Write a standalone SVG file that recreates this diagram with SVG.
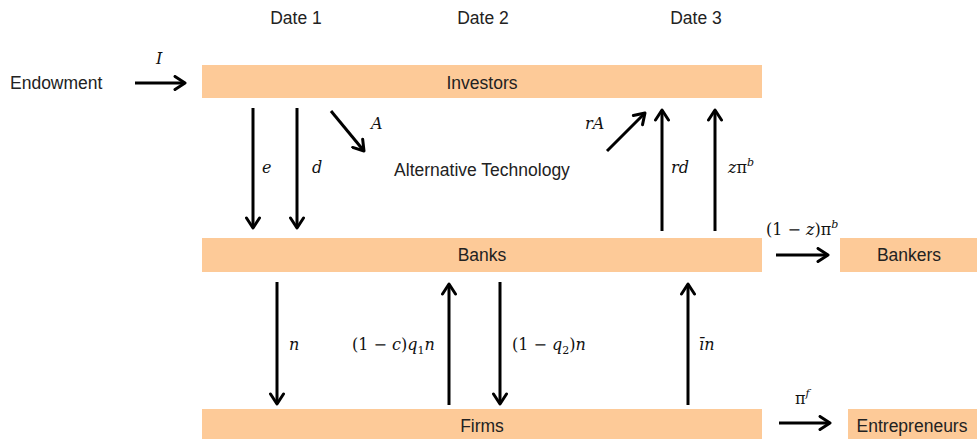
<svg xmlns="http://www.w3.org/2000/svg" width="977" height="439" viewBox="0 0 977 439">
<defs>
<marker id="ah" viewBox="0 0 14 16" refX="12" refY="8" markerWidth="14" markerHeight="16" markerUnits="userSpaceOnUse" orient="auto">
<polyline points="2,1.5 12,8 2,14.5" fill="none" stroke="#000" stroke-width="3" stroke-linecap="round" stroke-linejoin="round"/>
</marker>
<style>
.box{fill:#FDCA98;}
.t{font-family:"Liberation Sans",Arial,sans-serif;font-size:17.5px;fill:#222;}
.m{font-family:"DejaVu Serif","Liberation Serif",serif;font-style:italic;font-size:16px;fill:#111;}
.mu{font-family:"DejaVu Serif","Liberation Serif",serif;font-size:16px;fill:#111;}
.c line{stroke:#000;stroke-width:3;marker-end:url(#ah);}
</style>
</defs>
<rect width="977" height="439" fill="#fff"/>
<g id="dates">
<text class="t" x="296" y="24" text-anchor="middle">Date 1</text>
<text class="t" x="483" y="24" text-anchor="middle">Date 2</text>
<text class="t" x="696" y="24" text-anchor="middle">Date 3</text>
</g>
<g id="endowment"><text class="t" x="10" y="89">Endowment</text></g>
<g id="investors"><rect class="box" x="202" y="65" width="560" height="33"/><text class="t" x="482" y="89" text-anchor="middle">Investors</text></g>
<g id="alt"><text class="t" x="482" y="176" text-anchor="middle">Alternative  Technology</text></g>
<g id="banks"><rect class="box" x="202" y="238" width="560" height="34"/><text class="t" x="482" y="261" text-anchor="middle">Banks</text></g>
<g id="bankers"><rect class="box" x="840" y="238" width="137" height="34"/><text class="t" x="909" y="261" text-anchor="middle">Bankers</text></g>
<g id="firms"><rect class="box" x="202" y="409" width="560" height="30"/><text class="t" x="482" y="432" text-anchor="middle">Firms</text></g>
<g id="entrepreneurs"><rect class="box" x="848" y="409" width="129" height="30"/><text class="t" x="912" y="432" text-anchor="middle">Entrepreneurs</text></g>
<g id="connectors" class="c">
<line x1="135" y1="83" x2="185" y2="83"/>
<line x1="253" y1="108" x2="253" y2="228"/>
<line x1="297" y1="108" x2="297" y2="228"/>
<line x1="331" y1="111" x2="364" y2="151"/>
<line x1="607" y1="151" x2="645" y2="113"/>
<line x1="662" y1="231" x2="662" y2="110"/>
<line x1="715" y1="231" x2="715" y2="110"/>
<line x1="776" y1="255" x2="828" y2="255"/>
<line x1="277" y1="282" x2="277" y2="404"/>
<line x1="449" y1="405" x2="449" y2="284"/>
<line x1="500" y1="282" x2="500" y2="404"/>
<line x1="688" y1="405" x2="688" y2="284"/>
<line x1="779" y1="423" x2="830" y2="423"/>
</g>
<g id="labels">
<text class="m" x="156" y="64">I</text>
<text class="m" x="371" y="129">A</text>
<text class="m" x="585" y="129">rA</text>
<text class="m" x="262" y="173">e</text>
<text class="m" x="312" y="173">d</text>
<text class="m" x="671" y="173">rd</text>
<text class="m" x="728" y="173">z<tspan font-style="normal">π</tspan><tspan font-size="11" dy="-7">b</tspan></text>
<text class="mu" x="766" y="235">(1 − <tspan font-style="italic">z</tspan>)π<tspan font-style="italic" font-size="11" dy="-7">b</tspan></text>
<text class="m" x="289" y="350">n</text>
<text class="mu" x="352" y="350">(1 − <tspan font-style="italic">c</tspan>)<tspan font-style="italic">q</tspan><tspan font-size="11" dy="4">1</tspan><tspan font-style="italic" dy="-4">n</tspan></text>
<text class="mu" x="512" y="350">(1 − <tspan font-style="italic">q</tspan><tspan font-size="11" dy="4">2</tspan><tspan dy="-4">)</tspan><tspan font-style="italic">n</tspan></text>
<text class="m" x="699" y="350">ī<tspan>n</tspan></text>
<text class="mu" x="795" y="404">π<tspan font-style="italic" font-size="11" dy="-7">f</tspan></text>
</g>
</svg>
